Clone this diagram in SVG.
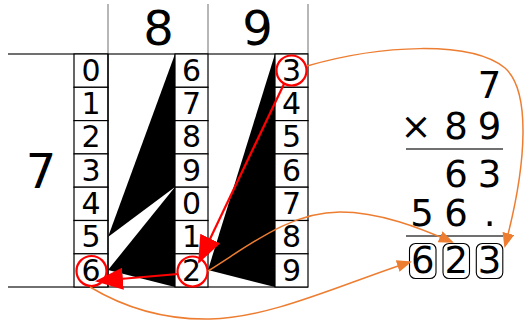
<svg xmlns="http://www.w3.org/2000/svg" width="525" height="320" viewBox="0 0 525 320">
<style>
.d{font-family:"DejaVu Sans","Liberation Sans",sans-serif;fill:#000;text-anchor:middle}
.cell{font-size:30px}
.big{font-size:48px}
.r{font-size:37px}
.box{fill:#fff;stroke:#000;stroke-width:1.2}
.rule{stroke:#404040;stroke-width:1.6}
.grid{stroke:#999;stroke-width:1.4}
.red{stroke:#f00;stroke-width:2.2;fill:none}
.org{stroke:#ED7D31;stroke-width:1.5;fill:none}
.tri{fill:#000}
.res{fill:#fff;stroke:#000;stroke-width:1.1}
</style>
<defs>
<marker id="ra" markerUnits="userSpaceOnUse" markerWidth="30" markerHeight="24" refX="26" refY="11" orient="auto">
<path d="M0,0 L28,11 L0,22 Z" fill="#f00"/>
</marker>
<marker id="oa" markerUnits="userSpaceOnUse" markerWidth="16" markerHeight="14" refX="13" refY="6" orient="auto">
<path d="M0,0 L15,6 L0,12 Z" fill="#ED7D31"/>
</marker>
</defs>
<rect width="525" height="320" fill="#fff"/>

<g id="frame">
<line class="grid" x1="108" y1="4" x2="108" y2="54"/>
<line class="grid" x1="208" y1="4" x2="208" y2="54"/>
<line class="grid" x1="308" y1="4" x2="308" y2="54"/>
<line class="rule" x1="8" y1="54" x2="308" y2="54"/>
<line class="rule" x1="8" y1="287" x2="308" y2="287"/>
<text class="d big" x="158.5" y="45">8</text>
<text class="d big" x="257.5" y="45">9</text>
<text class="d big" x="41" y="188">7</text>
</g>

<g id="rod-index">
<rect class="box" x="74" y="54" width="34" height="33.3"/>
<rect class="box" x="74" y="87.3" width="34" height="33.3"/>
<rect class="box" x="74" y="120.6" width="34" height="33.3"/>
<rect class="box" x="74" y="153.9" width="34" height="33.3"/>
<rect class="box" x="74" y="187.2" width="34" height="33.3"/>
<rect class="box" x="74" y="220.5" width="34" height="33.3"/>
<rect class="box" x="74" y="253.8" width="34" height="33.2"/>
<text class="d cell" x="91" y="80.7">0</text>
<text class="d cell" x="91" y="114">1</text>
<text class="d cell" x="91" y="147.3">2</text>
<text class="d cell" x="91" y="180.6">3</text>
<text class="d cell" x="91" y="213.9">4</text>
<text class="d cell" x="91" y="247.2">5</text>
<text class="d cell" x="91" y="280.5">6</text>
</g>

<g id="rod-8">
<polygon class="tri" points="175,54 108,237 175,187"/>
<polygon class="tri" points="175,187 108,270 175,287"/>
<line stroke="#000" stroke-width="1.2" x1="108" y1="54" x2="108" y2="287"/>
<rect class="box" x="175" y="54" width="33" height="33.3"/>
<rect class="box" x="175" y="87.3" width="33" height="33.3"/>
<rect class="box" x="175" y="120.6" width="33" height="33.3"/>
<rect class="box" x="175" y="153.9" width="33" height="33.3"/>
<rect class="box" x="175" y="187.2" width="33" height="33.3"/>
<rect class="box" x="175" y="220.5" width="33" height="33.3"/>
<rect class="box" x="175" y="253.8" width="33" height="33.2"/>
<text class="d cell" x="191.5" y="80.7">6</text>
<text class="d cell" x="191.5" y="114">7</text>
<text class="d cell" x="191.5" y="147.3">8</text>
<text class="d cell" x="191.5" y="180.6">9</text>
<text class="d cell" x="191.5" y="213.9">0</text>
<text class="d cell" x="191.5" y="247.2">1</text>
<text class="d cell" x="191.5" y="280.5">2</text>
</g>

<g id="rod-9">
<polygon class="tri" points="275,54 208,270 275,287"/>
<rect class="box" x="275" y="54" width="33" height="33.3"/>
<rect class="box" x="275" y="87.3" width="33" height="33.3"/>
<rect class="box" x="275" y="120.6" width="33" height="33.3"/>
<rect class="box" x="275" y="153.9" width="33" height="33.3"/>
<rect class="box" x="275" y="187.2" width="33" height="33.3"/>
<rect class="box" x="275" y="220.5" width="33" height="33.3"/>
<rect class="box" x="275" y="253.8" width="33" height="33.2"/>
<text class="d cell" x="291.5" y="80.7">3</text>
<text class="d cell" x="291.5" y="114">4</text>
<text class="d cell" x="291.5" y="147.3">5</text>
<text class="d cell" x="291.5" y="180.6">6</text>
<text class="d cell" x="291.5" y="213.9">7</text>
<text class="d cell" x="291.5" y="247.2">8</text>
<text class="d cell" x="291.5" y="280.5">9</text>
</g>

<g id="calc">
<text class="d r" x="489.6" y="98.3">7</text>
<text class="d r" x="416" y="139.3">×</text>
<text class="d r" x="456" y="139.3">8</text>
<text class="d r" x="489.6" y="139.3">9</text>
<line class="rule" x1="406" y1="149" x2="503" y2="149" stroke-width="2"/>
<text class="d r" x="456" y="186.7">6</text>
<text class="d r" x="489.6" y="186.7">3</text>
<text class="d r" x="422" y="226">5</text>
<text class="d r" x="456" y="226">6</text>
<text class="d r" x="489.6" y="226">.</text>
<line class="rule" x1="406" y1="236" x2="503" y2="236" stroke-width="2"/>
</g>

<g id="result">
<rect class="res" x="409.5" y="243.5" width="26.5" height="35" rx="6"/>
<rect class="res" x="443" y="243.5" width="26.5" height="35" rx="6"/>
<rect class="res" x="476.3" y="243.5" width="26.5" height="35" rx="6"/>
<text class="d r" x="422.7" y="273">6</text>
<text class="d r" x="456.2" y="273">2</text>
<text class="d r" x="489.5" y="273">3</text>
</g>

<g id="connectors">
<circle class="red" cx="291.5" cy="70.5" r="15"/>
<circle class="red" cx="192.5" cy="271.5" r="15"/>
<circle class="red" cx="91.5" cy="271" r="15"/>
<line class="red" x1="284" y1="84" x2="199" y2="262" marker-end="url(#ra)"/>
<line class="red" x1="178" y1="274" x2="97" y2="281" marker-end="url(#ra)"/>
<path class="org" d="M307,66 C380,45 470,40 505,68 C530,90 528,160 505,246" marker-end="url(#oa)"/>
<path class="org" d="M208,271 C250,245 290,212 340,212 C380,212 420,228 452,242" marker-end="url(#oa)"/>
<path class="org" d="M90,287 C120,305 160,320 210,319 C270,318 340,285 410,262" marker-end="url(#oa)"/>
</g>
</svg>
